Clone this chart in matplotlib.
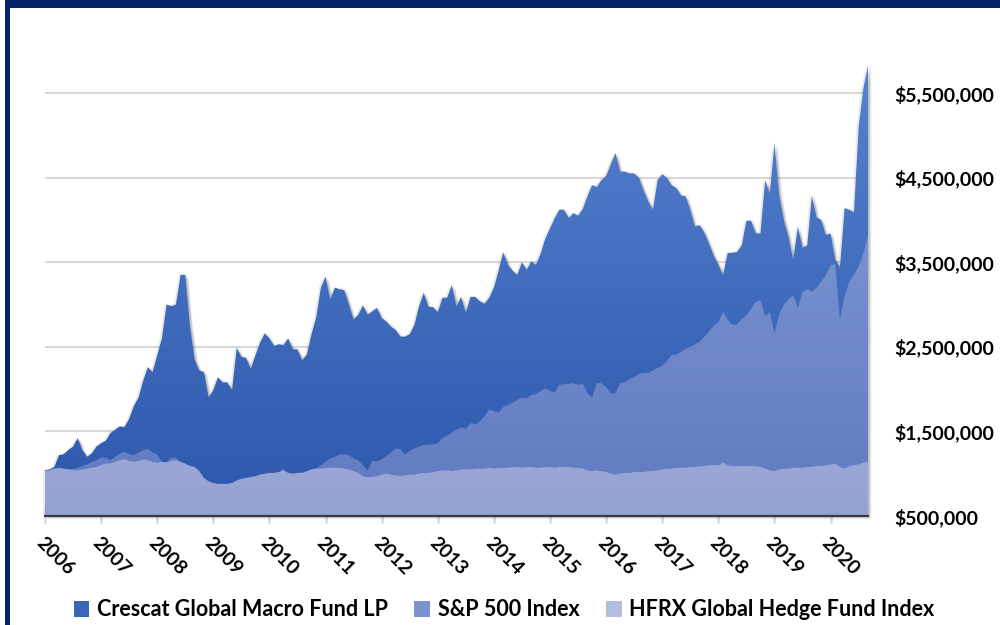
import numpy as np
import pandas as pd
import matplotlib
matplotlib.use("Agg")
import matplotlib.pyplot as plt
from matplotlib.patches import Rectangle, Patch, PathPatch
from matplotlib.colors import LinearSegmentedColormap
import matplotlib.transforms as mtransforms

plt.rcParams['font.family'] = ['Lato', 'DejaVu Sans']

# ---------------- data (values in $ millions, monthly Jan-2006 .. Sep-2020) -------------
months = pd.date_range("2006-01-01", periods=177, freq="MS")

crescat_m = [
    1.04, 1.05, 1.08, 1.22, 1.23, 1.28, 1.32, 1.42, 1.28, 1.20, 1.24, 1.32,   # 2006
    1.36, 1.39, 1.48, 1.52, 1.56, 1.55, 1.65, 1.80, 1.90, 2.10, 2.26, 2.20,   # 2007
    2.40, 2.60, 3.00, 2.98, 3.00, 3.35, 3.35, 2.75, 2.35, 2.22, 2.20, 1.90,   # 2008
    1.99, 2.14, 2.08, 2.08, 1.99, 2.49, 2.38, 2.37, 2.24, 2.40, 2.55, 2.66,   # 2009
    2.60, 2.51, 2.53, 2.52, 2.60, 2.47, 2.47, 2.34, 2.41, 2.65, 2.85, 3.20,   # 2010
    3.33, 3.06, 3.20, 3.18, 3.17, 3.00, 2.82, 2.88, 2.99, 2.88, 2.92, 2.96,   # 2011
    2.84, 2.80, 2.74, 2.70, 2.62, 2.62, 2.65, 2.76, 2.98, 3.14, 2.97, 2.97,   # 2012
    2.91, 3.08, 3.08, 3.23, 2.98, 3.09, 2.90, 3.09, 3.09, 3.04, 3.01, 3.08,   # 2013
    3.20, 3.40, 3.62, 3.47, 3.40, 3.35, 3.50, 3.41, 3.51, 3.47, 3.60, 3.78,   # 2014
    3.90, 4.02, 4.12, 4.12, 4.02, 4.08, 4.05, 4.13, 4.28, 4.41, 4.39, 4.47,   # 2015
    4.52, 4.66, 4.79, 4.57, 4.57, 4.55, 4.55, 4.50, 4.35, 4.22, 4.12, 4.47,   # 2016
    4.54, 4.50, 4.41, 4.38, 4.29, 4.28, 4.12, 3.92, 3.94, 3.85, 3.72, 3.58,   # 2017
    3.47, 3.35, 3.61, 3.61, 3.62, 3.70, 3.99, 3.99, 3.84, 3.84, 4.47, 4.31,   # 2018
    4.91, 4.30, 4.00, 3.80, 3.53, 3.92, 3.67, 3.70, 4.29, 4.03, 4.00, 3.82,   # 2019
    3.84, 3.53, 3.44, 4.14, 4.12, 4.09, 5.10, 5.55, 5.83,                     # 2020
]

sp500_m = [
    1.04, 1.05, 1.06, 1.05, 1.06, 1.05, 1.06, 1.07, 1.09, 1.11, 1.14, 1.16,
    1.19, 1.19, 1.16, 1.20, 1.24, 1.26, 1.23, 1.22, 1.25, 1.28, 1.29, 1.25,
    1.23, 1.14, 1.14, 1.19, 1.19, 1.12, 1.05, 1.04, 0.98, 0.85, 0.75, 0.72,
    0.68, 0.62, 0.58, 0.65, 0.70, 0.74, 0.78, 0.80, 0.85, 0.87, 0.85, 0.90,
    0.88, 0.92, 1.00, 1.06, 0.98, 0.92, 0.98, 0.95, 1.02, 1.05, 1.06, 1.10,
    1.14, 1.18, 1.20, 1.23, 1.23, 1.22, 1.18, 1.16, 1.10, 1.04, 1.15, 1.15,
    1.17, 1.21, 1.25, 1.30, 1.29, 1.23, 1.27, 1.30, 1.32, 1.34, 1.34, 1.35,
    1.36, 1.42, 1.45, 1.49, 1.52, 1.55, 1.53, 1.60, 1.58, 1.62, 1.68, 1.76,
    1.74, 1.72, 1.79, 1.81, 1.84, 1.87, 1.90, 1.89, 1.93, 1.94, 1.98, 2.01,
    1.98, 1.96, 2.05, 2.06, 2.06, 2.07, 2.05, 2.07, 1.95, 1.90, 2.07, 2.07,
    2.02, 1.95, 1.95, 2.07, 2.08, 2.12, 2.14, 2.18, 2.19, 2.19, 2.22, 2.25,
    2.28, 2.33, 2.40, 2.41, 2.44, 2.48, 2.50, 2.53, 2.56, 2.62, 2.68, 2.75,
    2.79, 2.91, 2.82, 2.76, 2.76, 2.83, 2.87, 2.95, 3.03, 3.05, 2.86, 2.91,
    2.66, 2.88, 3.00, 3.06, 3.11, 2.96, 3.15, 3.18, 3.15, 3.20, 3.27, 3.35,
    3.46, 3.48, 2.82, 3.10, 3.27, 3.35, 3.45, 3.60, 3.82,
]

hfrx_m = [
    1.03, 1.04, 1.06, 1.07, 1.06, 1.05, 1.04, 1.04, 1.05, 1.06, 1.07, 1.08,
    1.10, 1.12, 1.12, 1.14, 1.16, 1.17, 1.15, 1.14, 1.15, 1.17, 1.16, 1.14,
    1.13, 1.14, 1.13, 1.15, 1.16, 1.14, 1.12, 1.09, 1.08, 1.03, 0.95, 0.91,
    0.89, 0.88, 0.88, 0.88, 0.89, 0.92, 0.94, 0.95, 0.96, 0.97, 0.99, 1.00,
    1.01, 1.01, 1.02, 1.04, 1.01, 1.00, 1.01, 1.01, 1.03, 1.05, 1.06, 1.06,
    1.07, 1.07, 1.07, 1.07, 1.06, 1.05, 1.03, 1.01, 0.97, 0.96, 0.96, 0.97,
    0.99, 1.00, 0.99, 0.98, 0.97, 0.98, 0.99, 0.99, 1.00, 1.01, 1.01, 1.02,
    1.03, 1.04, 1.04, 1.03, 1.04, 1.05, 1.05, 1.05, 1.06, 1.06, 1.06, 1.07,
    1.06, 1.07, 1.07, 1.07, 1.08, 1.08, 1.07, 1.08, 1.08, 1.07, 1.07, 1.08,
    1.08, 1.07, 1.08, 1.08, 1.08, 1.07, 1.07, 1.06, 1.04, 1.03, 1.04, 1.03,
    1.02, 1.00, 0.99, 1.00, 1.01, 1.01, 1.02, 1.02, 1.02, 1.03, 1.03, 1.04,
    1.05, 1.06, 1.06, 1.07, 1.07, 1.07, 1.08, 1.08, 1.09, 1.09, 1.10, 1.10,
    1.10, 1.13, 1.10, 1.09, 1.09, 1.09, 1.09, 1.09, 1.09, 1.08, 1.06, 1.04,
    1.03, 1.05, 1.06, 1.06, 1.07, 1.07, 1.07, 1.08, 1.08, 1.09, 1.09, 1.10,
    1.11, 1.12, 1.08, 1.06, 1.09, 1.10, 1.11, 1.13, 1.14,
]

series_names = ["Crescat Global Macro Fund LP", "S&P 500 Index", "HFRX Global Hedge Fund Index"]
year_labels = [str(y) for y in range(2006, 2021)]
y_ticks = [500000, 1500000, 2500000, 3500000, 4500000, 5500000]
y_min, y_max = 500000, 5850000

# ---------------- styling -------------
navy = "#03236A"
grads = {  # (top colour, bottom colour) of the vertical gradients
    "crescat": ("#5682CF", "#2C57AC"),
    "sp": ("#86A0DA", "#6179C0"),
    "hfrx": ("#C3CBEA", "#94A2D3"),
}
legend_colors = ["#3A66BA", "#7A92D0", "#B2BDE2"]

fig = plt.figure(figsize=(10, 6.25), dpi=100)
ax = fig.add_axes([0.045, 1 - 516 / 625, 0.823, (516 - 63.4) / 625])

x = np.arange(len(months))
x0, x1 = x[0], x[-1]


def gradient_area(values, ctop, cbot, z, shadow=False):
    v = np.asarray(values) * 1e6
    poly = ax.fill_between(x, y_min, v, facecolor="none", edgecolor="none", zorder=z)
    path = poly.get_paths()[0]
    if shadow:
        for (dx, dy, a) in [(1.5, -1.5, 0.10), (2.5, -2.5, 0.07), (3.5, -3.5, 0.05),
                            (-1.5, 1.0, 0.05), (2.5, 1.0, 0.05), (-2.5, -1.0, 0.04)]:
            off = mtransforms.ScaledTranslation(dx / 100, dy / 100, fig.dpi_scale_trans)
            pp = PathPatch(path, facecolor="black", edgecolor="none", alpha=a,
                           transform=ax.transData + off, zorder=z - 0.5)
            pp.set_clip_on(False)
            ax.add_patch(pp)
    cmap = LinearSegmentedColormap.from_list("g", [cbot, ctop])
    grad = np.linspace(0, 1, 256).reshape(-1, 1)
    im = ax.imshow(grad, cmap=cmap, aspect="auto", origin="lower",
                   extent=[x0, x1, y_min, y_max], zorder=z, interpolation="bilinear")
    im.set_clip_path(path, ax.transData)
    return im


gradient_area(crescat_m, *grads["crescat"], z=2, shadow=True)
gradient_area(sp500_m, *grads["sp"], z=3)
gradient_area(hfrx_m, *grads["hfrx"], z=4)

ax.set_xlim(x0, x1)
ax.set_ylim(y_min, y_max)

# grid / axes
ax.set_axisbelow(True)
ax.yaxis.grid(True, color="#D9D9D9", linewidth=1.5)
ax.set_yticks(y_ticks)
ax.set_yticklabels([f"${v:,.0f}" for v in y_ticks])
ax.yaxis.tick_right()
ax.tick_params(axis="y", length=0, pad=19, labelsize=14)
for lab in ax.get_yticklabels():
    lab.set_fontweight("bold")

ax.set_xticks(x[::12])
ax.set_xticklabels(year_labels, rotation=-45, ha="left", va="top", rotation_mode="anchor",
                   fontsize=14, fontweight="bold")
ax.tick_params(axis="x", direction="inout", length=10, width=1.8, color="#D9D9D9", pad=8)

for s in ["top", "left", "right"]:
    ax.spines[s].set_visible(False)
ax.spines["bottom"].set_color("#3A3A3A")
ax.spines["bottom"].set_linewidth(1.6)
ax.spines["bottom"].set_zorder(5)

# legend
handles = [Patch(facecolor=c, edgecolor="none") for c in legend_colors]
fig.legend(handles, series_names, loc="center", bbox_to_anchor=(0.504, 1 - 610 / 625), ncol=3,
           frameon=False, prop={"weight": "bold", "size": 15.5}, handlelength=0.72, handleheight=0.72,
           handletextpad=0.35, columnspacing=1.25, borderaxespad=0)

# frame: navy bar on top and left
fig.patches.append(Rectangle((5 / 1000, 1 - 8 / 625), 1, 8 / 625, transform=fig.transFigure,
                             facecolor=navy, edgecolor="none", zorder=10))
fig.patches.append(Rectangle((5 / 1000, 0), 5 / 1000, 1, transform=fig.transFigure,
                             facecolor=navy, edgecolor="none", zorder=10))

fig.savefig("out.png", dpi=100)
